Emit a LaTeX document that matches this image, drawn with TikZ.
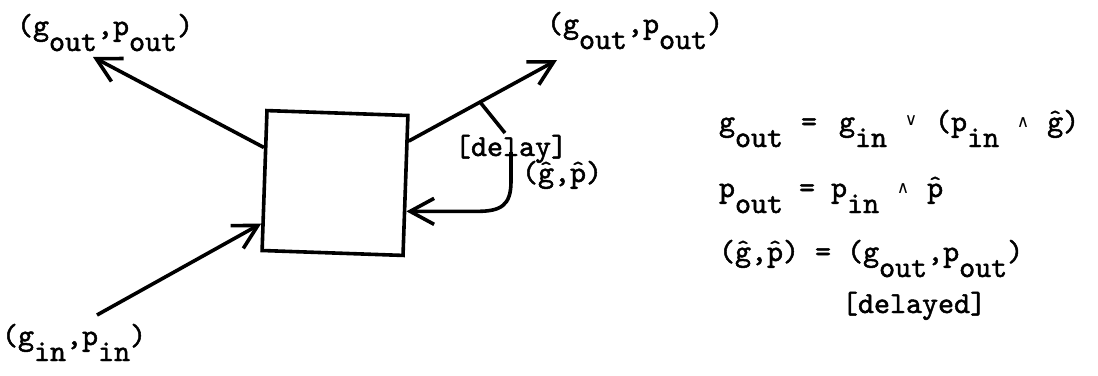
\documentclass[tikz,border=0pt]{standalone}
\usepackage{fontspec}
\usepackage{graphicx}
\newfontfamily\twfont{lmmono10-regular.otf}[FakeBold=1.6]
\newfontfamily\symfont{DejaVu Sans}
\usetikzlibrary{arrows.meta,calc}

% typewriter text, lowered subscripts, overstruck hats, logic operators
\newcommand\tw{\fontsize{30.5}{34}\selectfont\twfont}
\newcommand\lo[1]{\raisebox{-16pt}{#1}}
\newcommand\hatc[1]{\ooalign{#1\cr\hidewidth\raisebox{6pt}{\scalebox{0.75}{\textasciicircum}}\hidewidth\cr}}
\newcommand\opand{\makebox[0.525em]{\raisebox{4pt}{\fontsize{17}{17}\selectfont\symfont ∧}}}
\newcommand\opor{\makebox[0.525em]{\raisebox{6pt}{\fontsize{17}{17}\selectfont\symfont ∨}}}

\tikzset{
  txt/.style={inner sep=0pt, outer sep=0pt, anchor=base west, font=\tw},
  blockbox/.style={draw, line width=3.6pt, minimum width=141pt, minimum height=140pt, inner sep=0pt, rotate=-2},
  arr/.style={line width=3.6pt, -{Straight Barb[length=24pt,width=26pt]}},
  wire/.style={line width=3.6pt}
}

\begin{document}
\begin{tikzpicture}[x=1pt,y=-1pt]
\useasboundingbox (0,0) rectangle (1098,375);

% the block
\node[blockbox] (box) at (335,183) {};

% free ends of the connectors
\coordinate (tlTip) at (93,57);
\coordinate (trTip) at (557,60);
\coordinate (blStart) at (97,315);
\coordinate (tick1) at (480,102);
\coordinate (tick2) at (505,133);
\coordinate (fb) at (511,152);

% points on the block sides
\coordinate (outL) at ($(box.north west)!0.27!(box.south west)$);
\coordinate (inL) at ($(box.north west)!0.80!(box.south west)$);
\coordinate (outR) at ($(box.north east)!0.19!(box.south east)$);
\coordinate (fbEnd) at ($(box.north east)!0.68!(box.south east)$);

% connectors
\draw[arr] (outL) -- (tlTip);
\draw[arr] (outR) -- (trTip);
\draw[arr] (blStart) -- (inL);
\draw[wire] (tick1) -- (tick2);
\draw[arr] (fb) -- ($(fb |- fbEnd)+(0,-30)$)
  .. controls ($(fb |- fbEnd)+(0,-6)$) and ($(fb |- fbEnd)+(-10,0)$) .. ($(fb |- fbEnd)+(-34,0)$)
  -- (fbEnd);

% labels
\node[txt] (lblTL) at (17,35) {(g\lo{out},p\lo{out})};
\node[txt] (lblTR) at (547,33) {(g\lo{out},p\lo{out})};
\node[txt] (lblBL) at (2,345) {(g\lo{in},p\lo{in})};
\node[txt] (lblDelay) at (455,156) {[delay]};
\node[txt] (lblFb) at (522,182) {(\hatc{g},\hatc{p})};

% equations
\node[txt] (eq1l) at (719,131) {g\lo{out}};
\node[txt] (eq1m) at (801,131) {=};
\node[txt] (eq1r) at (839,131) {g\lo{in} \opor{} (p\lo{in} \opand{} \hatc{g})};
\node[txt] (eq2) at (719,197) {p\lo{out} = p\lo{in} \opand{} \hatc{p}};
\node[txt] (eq3) at (719,261) {(\hatc{g},\hatc{p}) = (g\lo{out},p\lo{out})};
\node[txt] (eq4) at (842,313) {[delayed]};
\end{tikzpicture}
\end{document}
